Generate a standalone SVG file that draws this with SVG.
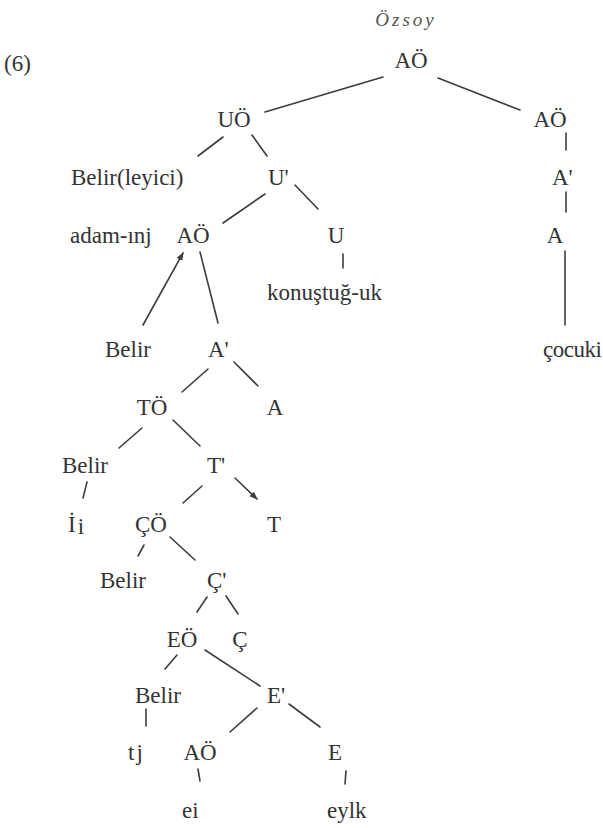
<svg xmlns="http://www.w3.org/2000/svg" width="603" height="828" viewBox="0 0 603 828">
<style>
  .t { font-family: "Liberation Serif", "Times New Roman", serif; font-size: 23px; fill: #333; }
  .m { text-anchor: middle; }
  .au { font-family: "Liberation Serif", "Times New Roman", serif; font-size: 19px; font-style: italic; fill: #555; letter-spacing: 3px; text-anchor: middle; }
  .e line { stroke: #3c3c3c; stroke-width: 1.6; stroke-linecap: round; }
</style>
<defs>
  <marker id="ah" viewBox="0 0 10 10" refX="9" refY="5" markerWidth="5" markerHeight="5" orient="auto">
    <path d="M0,1 L10,5 L0,9 Z" fill="#3c3c3c"/>
  </marker>
</defs>
<rect width="603" height="828" fill="#fff"/>
<text class="au" x="406" y="26">Özsoy</text>
<text class="t" x="4" y="71">(6)</text>

<g class="e" id="connectors">
  <line x1="383" y1="77" x2="265" y2="112"/>
  <line x1="438" y1="78" x2="520" y2="110"/>
  <line x1="566" y1="133" x2="566" y2="150"/>
  <line x1="566" y1="192" x2="566" y2="212"/>
  <line x1="565" y1="251" x2="565" y2="325"/>
  <line x1="223" y1="137" x2="198" y2="156"/>
  <line x1="252" y1="135" x2="267" y2="156"/>
  <line x1="265" y1="194" x2="223" y2="223"/>
  <line x1="295" y1="185" x2="318" y2="209"/>
  <line x1="343" y1="254" x2="343" y2="268"/>
  <line x1="143" y1="325" x2="183" y2="253" marker-end="url(#ah)"/>
  <line x1="200" y1="252" x2="218" y2="323"/>
  <line x1="208" y1="369" x2="182" y2="392"/>
  <line x1="234" y1="362" x2="258" y2="386"/>
  <line x1="142" y1="428" x2="119" y2="448"/>
  <line x1="173" y1="420" x2="200" y2="446"/>
  <line x1="87" y1="482" x2="83" y2="498"/>
  <line x1="202" y1="486" x2="183" y2="503"/>
  <line x1="235" y1="478" x2="257" y2="499" marker-end="url(#ah)"/>
  <line x1="144" y1="545" x2="138" y2="556"/>
  <line x1="170" y1="537" x2="195" y2="560"/>
  <line x1="207" y1="597" x2="197" y2="612"/>
  <line x1="226" y1="596" x2="238" y2="614"/>
  <line x1="177" y1="655" x2="165" y2="669"/>
  <line x1="205" y1="650" x2="260" y2="686"/>
  <line x1="146" y1="709" x2="146" y2="726"/>
  <line x1="257" y1="708" x2="230" y2="732"/>
  <line x1="289" y1="704" x2="320" y2="727"/>
  <line x1="198" y1="769" x2="200" y2="781"/>
  <line x1="346" y1="771" x2="345" y2="784"/>
</g>

<g id="n-root"><text class="t m" x="411" y="68">AÖ</text></g>
<g id="n-uo"><text class="t m" x="234" y="127">UÖ</text></g>
<g id="n-ao2"><text class="t m" x="550" y="127">AÖ</text></g>
<g id="n-belirleyici"><text class="t" x="71" y="185">Belir(leyici)</text></g>
<g id="n-ubar"><text class="t" x="268" y="185">U'</text></g>
<g id="n-abar2"><text class="t" x="552" y="185">A'</text></g>
<g id="n-adam"><text class="t" x="70" y="243">adam-ınj</text></g>
<g id="n-ao3"><text class="t m" x="193" y="243">AÖ</text></g>
<g id="n-u"><text class="t m" x="336" y="243">U</text></g>
<g id="n-a2"><text class="t m" x="555" y="243">A</text></g>
<g id="n-konustuguk"><text class="t" x="267" y="300">konuştuğ-uk</text></g>
<g id="n-belir1"><text class="t" x="105" y="357">Belir</text></g>
<g id="n-abar3"><text class="t" x="208" y="357">A'</text></g>
<g id="n-cocuk"><text class="t" x="543" y="357" letter-spacing="-0.5">çocuki</text></g>
<g id="n-to"><text class="t m" x="152" y="415">TÖ</text></g>
<g id="n-a3"><text class="t m" x="275" y="415">A</text></g>
<g id="n-belir2"><text class="t" x="62" y="473">Belir</text></g>
<g id="n-tbar"><text class="t" x="207" y="473">T'</text></g>
<g id="n-ii"><text class="t" x="68" y="532">İ<tspan dx="2" dy="2">i</tspan></text></g>
<g id="n-co"><text class="t m" x="151" y="532">ÇÖ</text></g>
<g id="n-t"><text class="t m" x="274" y="532">T</text></g>
<g id="n-belir3"><text class="t" x="100" y="588">Belir</text></g>
<g id="n-cbar"><text class="t" x="207" y="588">Ç'</text></g>
<g id="n-eo"><text class="t m" x="182" y="647">EÖ</text></g>
<g id="n-c"><text class="t m" x="240" y="647">Ç</text></g>
<g id="n-belir4"><text class="t" x="135" y="703">Belir</text></g>
<g id="n-ebar"><text class="t" x="267" y="703">E'</text></g>
<g id="n-tj"><text class="t" x="128" y="760">t<tspan dx="2">j</tspan></text></g>
<g id="n-ao4"><text class="t m" x="200" y="760">AÖ</text></g>
<g id="n-e"><text class="t m" x="335" y="760">E</text></g>
<g id="n-ei"><text class="t" x="182" y="818">ei</text></g>
<g id="n-eylk"><text class="t" x="327" y="818">eylk</text></g>
</svg>
